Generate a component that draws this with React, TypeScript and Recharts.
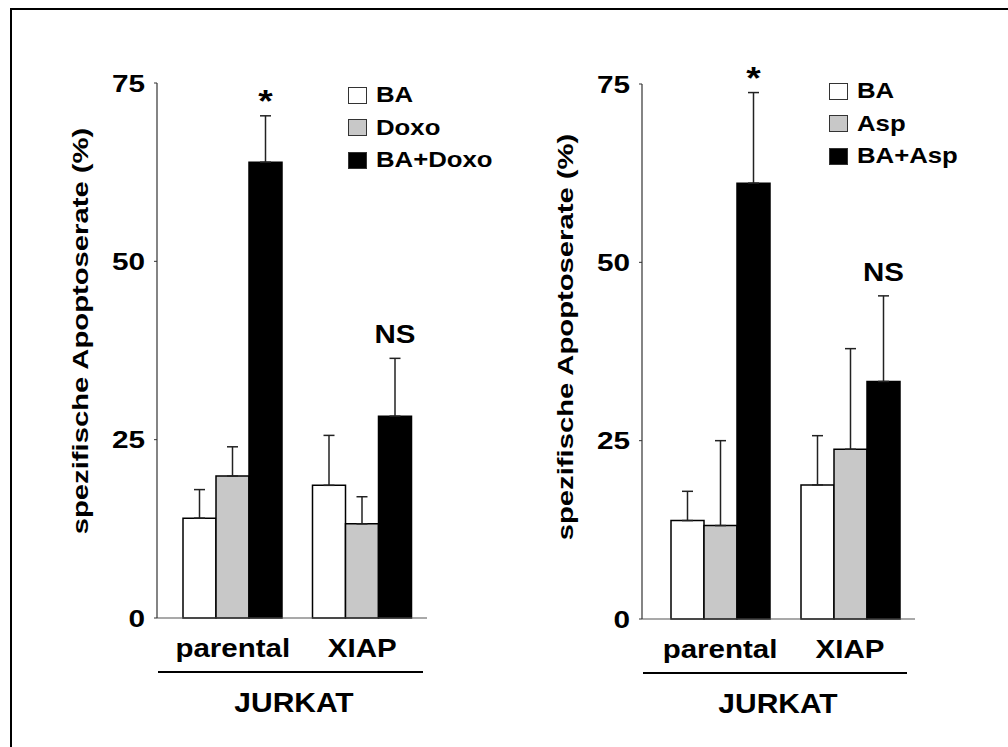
import React from 'react';
import { BarChart, Bar, XAxis, YAxis, ErrorBar, LabelList, Legend } from 'recharts';

const categories = ['parental', 'XIAP'];
const groupLabel = 'JURKAT';
const yTicks = [0, 25, 50, 75];
const yLabel = 'spezifische Apoptoserate (%)';
const barColors = ['#ffffff', '#c8c8c8', '#000000'];

// left panel (Doxo)
const leftNames = ['BA', 'Doxo', 'BA+Doxo'];
const leftBA = [14.0, 18.6];
const leftBAErr = [4.0, 7.0];
const leftDoxo = [19.9, 13.2];
const leftDoxoErr = [4.1, 3.8];
const leftCombo = [63.9, 28.3];
const leftComboErr = [6.5, 8.1];
const leftMarks = ['*', 'NS'];

// right panel (Asp)
const rightNames = ['BA', 'Asp', 'BA+Asp'];
const rightBA = [13.8, 18.8];
const rightBAErr = [4.1, 6.9];
const rightAsp = [13.1, 23.8];
const rightAspErr = [11.9, 14.1];
const rightCombo = [61.1, 33.3];
const rightComboErr = [12.7, 12.0];
const rightMarks = ['*', 'NS'];

const FONT = "'Liberation Sans', Arial, Helvetica, sans-serif";

function buildData(vals: number[][], errs: number[][], marks: string[]) {
  return categories.map((name, i) => ({
    name,
    v0: vals[0][i],
    v1: vals[1][i],
    v2: vals[2][i],
    e0: [0, errs[0][i]],
    e1: [0, errs[1][i]],
    e2: [0, errs[2][i]],
    mark: marks[i],
  }));
}

function YTick(props: any) {
  const { x, y, payload } = props;
  return (
    <text
      transform={`translate(${x},${y + 8.5}) scale(1.24,1)`}
      textAnchor="end"
      fontFamily={FONT}
      fontWeight="bold"
      fontSize={24}
      fill="#000"
    >
      {payload.value}
    </text>
  );
}

function XTick(props: any) {
  const { x, y, payload } = props;
  return (
    <text
      transform={`translate(${x},${y + 39}) scale(1.18,1)`}
      textAnchor="middle"
      fontFamily={FONT}
      fontWeight="bold"
      fontSize={25}
      fill="#000"
    >
      {payload.value}
    </text>
  );
}

function makeLegend(names: string[]) {
  return (props: any) => {
    const payload = [...(props.payload || [])].sort(
      (a: any, b: any) => names.indexOf(a.value) - names.indexOf(b.value)
    );
    return (
      <div>
        {payload.map((e: any) => (
          <div key={e.value} style={{ display: 'flex', alignItems: 'center', height: 32.5 }}>
            <span
              style={{
                display: 'inline-block',
                width: 19,
                height: 17,
                background: e.color,
                border: '1px solid #333',
                boxSizing: 'border-box',
              }}
            />
            <span
              style={{
                display: 'inline-block',
                marginLeft: 9,
                fontFamily: FONT,
                fontWeight: 'bold',
                fontSize: 22,
                lineHeight: 1,
                color: '#000',
                transform: 'scaleX(1.17)',
                transformOrigin: 'left center',
                whiteSpace: 'nowrap',
              }}
            >
              {e.value}
            </span>
          </div>
        ))}
      </div>
    );
  };
}

function makeMark(vals: number[], errs: number[]) {
  return (props: any) => {
    const vb = props.viewBox || {};
    const x = Number(props.x ?? vb.x);
    const y = Number(props.y ?? vb.y);
    const w = Number(props.width ?? vb.width);
    const h = Number(props.height ?? vb.height);
    const idx = props.index;
    const value = props.value;
    if (idx == null || !vals[idx]) return null;
    const pxPerUnit = h / vals[idx];
    const errTop = y - errs[idx] * pxPerUnit;
    const cx = x + w / 2;
    if (value === '*') {
      return (
        <text
          transform={`translate(${cx},${errTop - 4}) scale(1.2,1)`}
          textAnchor="middle"
          fontFamily={FONT}
          fontWeight="bold"
          fontSize={31}
          fill="#000"
        >
          {value}
        </text>
      );
    }
    return (
      <text
        transform={`translate(${cx},${errTop - 15}) scale(1.18,1)`}
        textAnchor="middle"
        fontFamily={FONT}
        fontWeight="bold"
        fontSize={25}
        fill="#000"
      >
        {value}
      </text>
    );
  };
}

type PanelProps = {
  names: string[];
  vals: number[][];
  errs: number[][];
  marks: string[];
  width: number;
  margin: { top: number; right: number; bottom: number; left: number };
  padLeft: number;
  legendLeft: number;
  legendTop: number;
  yLabelX: number;
  yLabelY: number;
  lineStart: number;
  lineLen: number;
  groupCenter: number;
};

function Panel(p: PanelProps) {
  const data = buildData(p.vals, p.errs, p.marks);
  const yLabelRender = () => (
    <text
      transform={`translate(${p.yLabelX},${p.yLabelY}) rotate(-90) scale(1.3,1)`}
      textAnchor="middle"
      fontFamily={FONT}
      fontWeight="bold"
      fontSize={22.5}
      fill="#000"
    >
      {yLabel}
    </text>
  );
  const groupRender = (props: any) => {
    const vb = props.viewBox || {};
    const x0 = Number(vb.x);
    const y0 = Number(vb.y);
    return (
      <g>
        <line x1={x0 + p.lineStart} x2={x0 + p.lineStart + p.lineLen} y1={y0 + 54} y2={y0 + 54} stroke="#000" strokeWidth={2} />
        <text
          transform={`translate(${x0 + p.groupCenter},${y0 + 94}) scale(1.11,1)`}
          textAnchor="middle"
          fontFamily={FONT}
          fontWeight="bold"
          fontSize={27}
          fill="#000"
        >
          {groupLabel}
        </text>
      </g>
    );
  };
  return (
    <BarChart width={p.width} height={747} data={data} margin={p.margin} barGap={0}>
      <XAxis
        dataKey="name"
        axisLine={{ stroke: '#555', strokeWidth: 1.2 }}
        tickLine={false}
        tickSize={0}
        tickMargin={0}
        tick={<XTick />}
        padding={{ left: p.padLeft, right: 0 }}
        interval={0}
        label={groupRender}
      />
      <YAxis
        domain={[0, 75]}
        ticks={yTicks}
        interval={0}
        axisLine={{ stroke: '#333', strokeWidth: 1.2 }}
        tickLine={{ stroke: '#333' }}
        tickSize={3}
        tickMargin={9}
        tick={<YTick />}
        label={yLabelRender}
        width={60}
      />
      <Legend
        layout="vertical"
        align="center"
        verticalAlign="middle"
        content={makeLegend(p.names)}
        wrapperStyle={{ left: p.legendLeft, top: p.legendTop, width: 'auto', height: 'auto' }}
      />
      {[0, 1, 2].map((k) => (
        <Bar
          key={k}
          dataKey={`v${k}`}
          name={p.names[k]}
          fill={barColors[k]}
          stroke="#000"
          strokeWidth={1.5}
          barSize={33}
          isAnimationActive={false}
        >
          <ErrorBar dataKey={`e${k}`} width={5.5} stroke="#222" strokeWidth={1.5} direction="y" />
          {k === 2 ? <LabelList dataKey="mark" content={makeMark(p.vals[2], p.errs[2])} /> : null}
        </Bar>
      ))}
    </BarChart>
  );
}

export default function App() {
  return (
    <div style={{ position: 'absolute', left: 0, top: 0, width: 1008, height: 747, overflow: 'hidden', background: '#fff' }}>
      <div style={{ position: 'absolute', left: 10, top: 8, width: 1100, height: 900, border: '2px solid #000' }} />
      <div style={{ position: 'absolute', left: 0, top: 0 }}>
        <Panel
          names={leftNames}
          vals={[leftBA, leftDoxo, leftCombo]}
          errs={[leftBAErr, leftDoxoErr, leftComboErr]}
          marks={leftMarks}
          width={480}
          margin={{ top: 83, right: 53, bottom: 99, left: 97 }}
          padLeft={11}
          legendLeft={348}
          legendTop={78.75}
          yLabelX={88}
          yLabelY={331}
          lineStart={1}
          lineLen={265}
          groupCenter={137}
        />
      </div>
      <div style={{ position: 'absolute', left: 480, top: 0 }}>
        <Panel
          names={rightNames}
          vals={[rightBA, rightAsp, rightCombo]}
          errs={[rightBAErr, rightAspErr, rightComboErr]}
          marks={rightMarks}
          width={528}
          margin={{ top: 84, right: 93, bottom: 98, left: 102 }}
          padLeft={13}
          legendLeft={349}
          legendTop={74.75}
          yLabelX={93}
          yLabelY={337}
          lineStart={1}
          lineLen={264}
          groupCenter={136}
        />
      </div>
    </div>
  );
}
